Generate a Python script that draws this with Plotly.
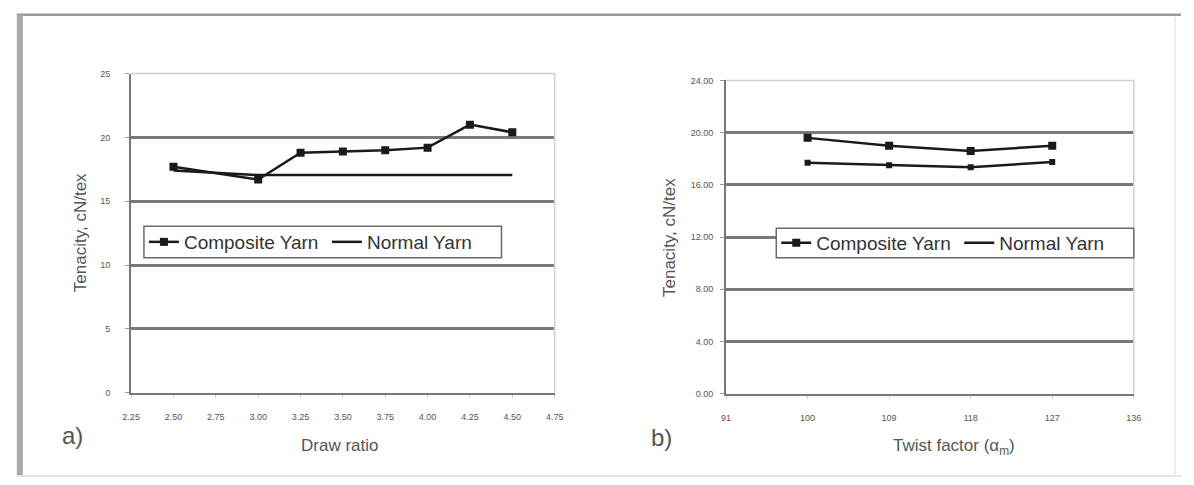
import plotly.graph_objects as go

# ---- data ----
draw_ratio = [2.50, 3.00, 3.25, 3.50, 3.75, 4.00, 4.25, 4.50]
comp_a = [17.7, 16.7, 18.8, 18.9, 19.0, 19.2, 21.0, 20.4]
normal_a = [17.4, 17.05, 17.05, 17.05, 17.05, 17.05, 17.05, 17.05]

twist = [100, 109, 118, 127]
comp_b = [19.6, 19.0, 18.6, 19.0]
normal_b = [17.7, 17.5, 17.35, 17.75]

x_ticks_a = [2.25, 2.50, 2.75, 3.00, 3.25, 3.50, 3.75, 4.00, 4.25, 4.50, 4.75]
y_ticks_a = [0, 5, 10, 15, 20, 25]
x_ticks_b = [91, 100, 109, 118, 127, 136]
y_ticks_b = [0, 4, 8, 12, 16, 20, 24]

W, H = 1194, 485
FONT = "Liberation Sans, Arial, sans-serif"
TXT = "#555555"
GRID = "#7a7a7a"
INK = "#1a1a1a"

def px(x):
    return x / W

def py(y):
    return 1 - y / H

fig = go.Figure()

# left chart
fig.add_trace(go.Scatter(x=draw_ratio, y=comp_a, name="Composite Yarn", mode="lines+markers",
                         line=dict(color=INK, width=2.5),
                         marker=dict(symbol="square", size=8, color=INK),
                         xaxis="x", yaxis="y", legend="legend"))
fig.add_trace(go.Scatter(x=draw_ratio, y=normal_a, name="Normal Yarn", mode="lines",
                         line=dict(color=INK, width=2.5),
                         xaxis="x", yaxis="y", legend="legend"))

# right chart
fig.add_trace(go.Scatter(x=twist, y=comp_b, name="Composite Yarn", mode="lines+markers",
                         line=dict(color=INK, width=2.5),
                         marker=dict(symbol="square", size=8, color=INK),
                         xaxis="x2", yaxis="y2", legend="legend2"))
fig.add_trace(go.Scatter(x=twist, y=normal_b, name="Normal Yarn", mode="lines+markers",
                         line=dict(color=INK, width=2.5),
                         marker=dict(symbol="square", size=6, color=INK),
                         xaxis="x2", yaxis="y2", showlegend=False))
fig.add_trace(go.Scatter(x=[None], y=[None], name="Normal Yarn", mode="lines",
                         line=dict(color=INK, width=2.5),
                         xaxis="x2", yaxis="y2", legend="legend2"))

tickfont = dict(family=FONT, size=9, color=TXT)

common_x = dict(showgrid=False, zeroline=False, showline=True, linecolor="#777777", linewidth=2,
                tickfont=tickfont, ticks="outside", ticklen=3, tickcolor="#cccccc",
                ticklabelstandoff=11, fixedrange=True)
common_y = dict(showgrid=True, gridcolor=GRID, gridwidth=2.5, zeroline=False, showline=True,
                linecolor="#777777", linewidth=2, tickfont=tickfont, ticks="outside",
                ticklen=4, tickcolor="#999999", fixedrange=True)

legend_common = dict(orientation="h", xanchor="left", yanchor="middle",
                     borderwidth=0, bgcolor="rgba(0,0,0,0)",
                     font=dict(family=FONT, size=19, color="#333333"),
                     entrywidth=138, itemwidth=30, tracegroupgap=0)

fig.update_layout(
    width=W, height=H,
    margin=dict(l=0, r=0, t=0, b=0),
    paper_bgcolor="white", plot_bgcolor="white",
    font=dict(family=FONT, color=TXT),
    xaxis=dict(common_x, domain=[px(124), px(554)], range=[2.25, 4.75],
               tickvals=x_ticks_a, ticktext=[f"{v:.2f}" for v in x_ticks_a], anchor="y"),
    yaxis=dict(common_y, domain=[py(396), py(70)], range=[0, 25], ticklabelstandoff=13,
               tickvals=y_ticks_a, ticktext=[str(v) for v in y_ticks_a], anchor="x"),
    xaxis2=dict(common_x, domain=[px(728), px(1142)], range=[91, 136],
                tickvals=x_ticks_b, ticktext=[str(v) for v in x_ticks_b], anchor="y2"),
    yaxis2=dict(common_y, domain=[py(397), py(77)], range=[0, 24], ticklabelstandoff=5,
                tickvals=y_ticks_b, ticktext=[f"{v:.2f}" for v in y_ticks_b], anchor="x2"),
    legend=dict(legend_common, x=px(137), y=py(242)),
    legend2=dict(legend_common, x=px(779), y=py(243)),
    showlegend=True,
)

shapes = []
# plot-area borders (light top/right)
for (x0, x1, y0, y1) in [(124, 554, 70, 396), (728, 1142, 77, 397)]:
    shapes.append(dict(type="line", xref="paper", yref="paper", x0=px(x0), x1=px(x1), y0=py(y0), y1=py(y0),
                       line=dict(color="#d0d0d0", width=1.5)))
    shapes.append(dict(type="line", xref="paper", yref="paper", x0=px(x1), x1=px(x1), y0=py(y0), y1=py(y1),
                       line=dict(color="#d0d0d0", width=1.5)))
# legend boxes
for (x0, x1, y0, y1) in [(137, 500, 226, 258), (779, 1142, 228, 258)]:
    shapes.append(dict(type="rect", xref="paper", yref="paper", layer="above",
                       x0=px(x0), x1=px(x1), y0=py(y1), y1=py(y0),
                       fillcolor="white", line=dict(color="#6a6a6a", width=1.5)))
# outer frame
shapes.append(dict(type="line", xref="paper", yref="paper", x0=px(8), x1=px(1190), y0=py(10), y1=py(10),
                   line=dict(color="#9a9a9a", width=2.5)))
shapes.append(dict(type="line", xref="paper", yref="paper", x0=px(11), x1=px(11), y0=py(10), y1=py(482),
                   line=dict(color="#a8a8a8", width=6)))
shapes.append(dict(type="line", xref="paper", yref="paper", x0=px(8), x1=px(1190), y0=py(481), y1=py(481),
                   line=dict(color="#e4e4e4", width=2)))
shapes.append(dict(type="line", xref="paper", yref="paper", x0=px(1184), x1=px(1184), y0=py(12), y1=py(481),
                   line=dict(color="#ececec", width=2)))
fig.update_layout(shapes=shapes)

ann = [
    dict(text="Tenacity, cN/tex", x=px(72), y=py(232), textangle=-90, font=dict(size=17)),
    dict(text="Draw ratio", x=px(336), y=py(450), font=dict(size=17)),
    dict(text="a)", x=px(64), y=py(440), font=dict(size=24)),
    dict(text="Tenacity, cN/tex", x=px(670), y=py(237), textangle=-90, font=dict(size=17)),
    dict(text="Twist factor (α<sub>m</sub>)", x=px(959), y=py(451), font=dict(size=17)),
    dict(text="b)", x=px(662), y=py(442), font=dict(size=24)),
]
for a in ann:
    a.update(xref="paper", yref="paper", showarrow=False, xanchor="center", yanchor="middle")
    a["font"].update(family=FONT, color=TXT)
fig.update_layout(annotations=ann)

fig.write_html("out.html")
